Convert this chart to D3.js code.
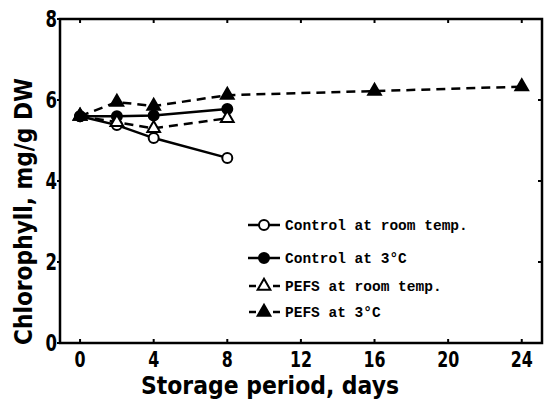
<!DOCTYPE html>
<html><head><meta charset="utf-8">
<script src="https://cdn.jsdelivr.net/npm/d3@7"></script>
<style>body{margin:0;background:#fff}svg{display:block}</style>
</head><body><svg id="c" width="551" height="402"></svg>
<script>
const xTicks = [0, 4, 8, 12, 16, 20, 24];
const yTicks = [0, 2, 4, 6, 8];
const controlRoom = [[0, 5.6], [2, 5.38], [4, 5.06], [8, 4.57]];
const control3 = [[0, 5.6], [2, 5.6], [4, 5.62], [8, 5.78]];
const pefsRoom = [[0, 5.6], [2, 5.45], [4, 5.3], [8, 5.55]];
const pefs3 = [[0, 5.6], [2, 5.95], [4, 5.85], [8, 6.12], [16, 6.22], [24, 6.33]];
const legendLabels = ["Control at room temp.", "Control at 3°C", "PEFS at room temp.", "PEFS at 3°C"];

const series = [
  {data: controlRoom, dash: null, marker: "circle", fill: "#fff"},
  {data: control3, dash: null, marker: "circle", fill: "#000"},
  {data: pefsRoom, dash: "9,6", marker: "tri", fill: "#fff"},
  {data: pefs3, dash: "9,6", marker: "tri", fill: "#000"}
];

const svg = d3.select("#c");
const x = d3.scaleLinear().domain([-1.09, 25.1]).range([60, 542]);
const y = d3.scaleLinear().domain([0, 8]).range([343, 19]);

// frame
svg.append("rect").attr("x", 60).attr("y", 19).attr("width", 482).attr("height", 324)
  .attr("fill", "none").attr("stroke", "#000").attr("stroke-width", 2.5);

// ticks
const tg = svg.append("g").attr("stroke", "#000").attr("stroke-width", 2);
xTicks.forEach(t => {
  tg.append("line").attr("x1", x(t)).attr("x2", x(t)).attr("y1", 343).attr("y2", 339);
  tg.append("line").attr("x1", x(t)).attr("x2", x(t)).attr("y1", 19).attr("y2", 23);
});
yTicks.forEach(t => {
  tg.append("line").attr("x1", 60).attr("x2", 57).attr("y1", y(t)).attr("y2", y(t));
  tg.append("line").attr("x1", 542).attr("x2", 538).attr("y1", y(t)).attr("y2", y(t));
});

const tickFont = "'DejaVu Sans Condensed', 'DejaVu Sans', sans-serif";
svg.append("g").selectAll("text").data(xTicks).join("text")
  .attr("transform", d => `translate(${x(d)},367) scale(0.8,1)`).attr("text-anchor", "middle")
  .attr("font-family", tickFont).attr("font-size", 22).attr("font-weight", "bold").text(d => d);
svg.append("g").selectAll("text").data(yTicks).join("text")
  .attr("transform", d => `translate(57,${y(d) + 8}) scale(0.8,1)`).attr("text-anchor", "end")
  .attr("font-family", tickFont).attr("font-size", 23).attr("font-weight", "bold").text(d => d);

svg.append("text").attr("x", 141).attr("y", 394)
  .attr("textLength", 258).attr("lengthAdjust", "spacingAndGlyphs")
  .attr("font-family", tickFont).attr("font-size", 25).attr("font-weight", "bold").text("Storage period, days");
svg.append("text").attr("transform", "translate(32,345) rotate(-90)")
  .attr("textLength", 267).attr("lengthAdjust", "spacingAndGlyphs")
  .attr("font-family", tickFont).attr("font-size", 25).attr("font-weight", "bold").text("Chlorophyll, mg/g DW");

const line = d3.line().x(d => x(d[0])).y(d => y(d[1]));
const triPath = d3.symbol().type(d3.symbolTriangle).size(70);

function marker(g, s, cx, cy) {
  if (s.marker === "circle") {
    g.append("circle").attr("cx", cx).attr("cy", cy).attr("r", 5)
      .attr("fill", s.fill).attr("stroke", "#000").attr("stroke-width", 2);
  } else {
    g.append("path").attr("d", triPath()).attr("transform", `translate(${cx},${cy})`)
      .attr("fill", s.fill).attr("stroke", "#000").attr("stroke-width", 2);
  }
}

series.forEach(s => {
  svg.append("path").attr("d", line(s.data)).attr("fill", "none").attr("stroke", "#000")
    .attr("stroke-width", 2.5).attr("stroke-dasharray", s.dash);
});
series.forEach(s => {
  const g = svg.append("g");
  s.data.forEach(d => marker(g, s, x(d[0]), y(d[1])));
});

// legend
const legY = [225, 258, 286, 312];
series.forEach((s, i) => {
  const g = svg.append("g");
  const ly = legY[i];
  if (s.dash) {
    g.append("line").attr("x1", 249).attr("x2", 256).attr("y1", ly).attr("y2", ly).attr("stroke", "#000").attr("stroke-width", 2.5);
    g.append("line").attr("x1", 273).attr("x2", 280).attr("y1", ly).attr("y2", ly).attr("stroke", "#000").attr("stroke-width", 2.5);
  } else {
    g.append("line").attr("x1", 248).attr("x2", 280).attr("y1", ly).attr("y2", ly).attr("stroke", "#000").attr("stroke-width", 2.5);
  }
  marker(g, s, 264, ly);
  g.append("text").attr("x", 285).attr("y", ly + 5).attr("font-family", "'Liberation Mono', monospace")
    .attr("font-size", 14.5).attr("font-weight", "bold").text(legendLabels[i]);
});
</script></body></html>
